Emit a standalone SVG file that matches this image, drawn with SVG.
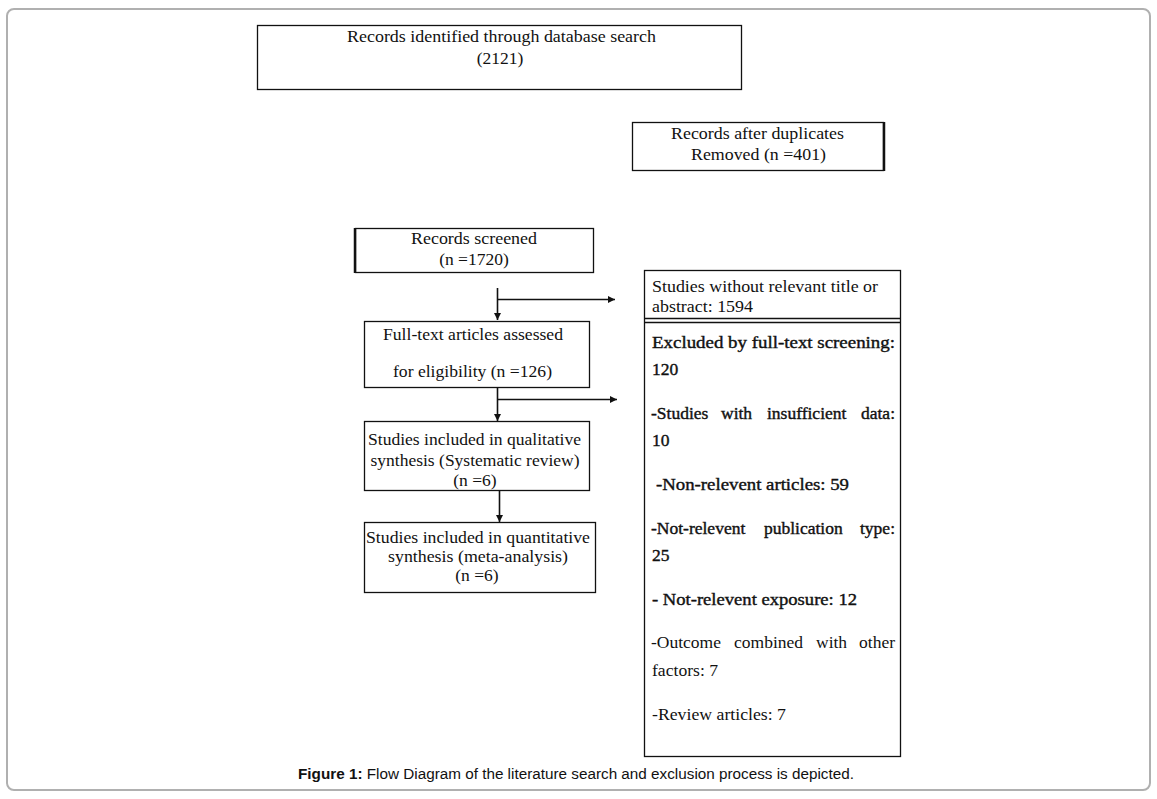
<svg xmlns="http://www.w3.org/2000/svg" width="1157" height="799" viewBox="0 0 1157 799">
<style>
.frame{fill:#fff;stroke:#b0b0b0;stroke-width:2}
.box{fill:#fff;stroke:#111;stroke-width:1.3}
.t{font-family:"Liberation Serif","Times New Roman",serif;font-size:17.5px;fill:#111}
.c{text-anchor:middle}
.e{text-anchor:end}
.b{stroke:#111;stroke-width:0.4}
.line{stroke:#111;stroke-width:1.6;fill:none}
.cap{font-family:"Liberation Sans",Arial,sans-serif;font-size:15.3px;fill:#111}
</style>
<defs>
<marker id="ah" viewBox="0 0 10 10" refX="10" refY="5" markerWidth="7" markerHeight="7" orient="auto" markerUnits="userSpaceOnUse">
<path d="M0,0 L10,5 L0,10 z" fill="#111"/>
</marker>
</defs>
<rect class="frame" x="7" y="9" width="1143" height="781" rx="7"/>
<g id="n1">
<rect class="box" x="257.5" y="25.5" width="484" height="64"/>
<text class="t c" x="501.5" y="42" textLength="309" lengthAdjust="spacingAndGlyphs">Records identified through database search</text>
<text class="t c" x="500" y="64">(2121)</text>
</g>
<g id="n2">
<rect class="box" x="632.5" y="122.5" width="251" height="48"/>
<line x1="884" y1="122" x2="884" y2="171" stroke="#111" stroke-width="2.5"/>
<text class="t c" x="757.5" y="139" textLength="173" lengthAdjust="spacingAndGlyphs">Records after duplicates</text>
<text class="t c" x="758.5" y="160" textLength="135" lengthAdjust="spacingAndGlyphs">Removed (n =401)</text>
</g>
<g id="n3">
<rect class="box" x="355.5" y="228.5" width="238" height="44"/>
<line x1="355" y1="228" x2="355" y2="273" stroke="#111" stroke-width="2.5"/>
<text class="t c" x="474" y="244" textLength="126" lengthAdjust="spacingAndGlyphs">Records screened</text>
<text class="t c" x="474" y="265">(n =1720)</text>
</g>
<g id="n4">
<rect class="box" x="644.5" y="270.5" width="256" height="486"/>
<line x1="644" y1="318.5" x2="901" y2="318.5" stroke="#111" stroke-width="1.3"/>
<line x1="644" y1="322.5" x2="901" y2="322.5" stroke="#111" stroke-width="1.3"/>
<text class="t" x="652" y="292" textLength="226" lengthAdjust="spacingAndGlyphs">Studies without relevant title or</text>
<text class="t" x="652" y="312" textLength="101" lengthAdjust="spacingAndGlyphs">abstract: 1594</text>
<text class="t b" x="652" y="348" textLength="243" lengthAdjust="spacingAndGlyphs">Excluded by full-text screening:</text>
<text class="t b" x="652" y="375">120</text>
<g class="t b">
<text x="651" y="419">-Studies</text>
<text x="721" y="419">with</text>
<text x="767" y="419">insufficient</text>
<text class="e" x="895" y="419">data:</text>
</g>
<text class="t b" x="652" y="446">10</text>
<text class="t b" x="656" y="490" textLength="193" lengthAdjust="spacingAndGlyphs">-Non-relevent articles: 59</text>
<g class="t b">
<text x="651" y="534">-Not-relevent</text>
<text x="764" y="534">publication</text>
<text class="e" x="895" y="534">type:</text>
</g>
<text class="t b" x="652" y="561">25</text>
<text class="t b" x="652" y="605" textLength="205" lengthAdjust="spacingAndGlyphs">- Not-relevent exposure: 12</text>
<g class="t">
<text x="651" y="648">-Outcome</text>
<text x="734" y="648">combined</text>
<text x="816" y="648">with</text>
<text class="e" x="895" y="648">other</text>
</g>
<text class="t" x="652" y="676" textLength="66" lengthAdjust="spacingAndGlyphs">factors: 7</text>
<text class="t" x="652" y="720" textLength="134" lengthAdjust="spacingAndGlyphs">-Review articles: 7</text>
</g>
<g id="n5">
<rect class="box" x="364.5" y="321.5" width="225" height="66"/>
<text class="t c" x="473" y="340" textLength="180" lengthAdjust="spacingAndGlyphs">Full-text articles assessed</text>
<text class="t c" x="472.5" y="377" textLength="159" lengthAdjust="spacingAndGlyphs">for eligibility (n =126)</text>
</g>
<g id="n6">
<rect class="box" x="364.5" y="421.5" width="225" height="69"/>
<text class="t c" x="474.5" y="445" textLength="213" lengthAdjust="spacingAndGlyphs">Studies included in qualitative</text>
<text class="t c" x="475" y="466" textLength="209" lengthAdjust="spacingAndGlyphs">synthesis (Systematic review)</text>
<text class="t c" x="475" y="486">(n =6)</text>
</g>
<g id="n7">
<rect class="box" x="364.5" y="522.5" width="231" height="70"/>
<text class="t c" x="478" y="543" textLength="224" lengthAdjust="spacingAndGlyphs">Studies included in quantitative</text>
<text class="t c" x="478" y="562" textLength="180" lengthAdjust="spacingAndGlyphs">synthesis (meta-analysis)</text>
<text class="t c" x="477" y="581">(n =6)</text>
</g>
<g id="connectors">
<line class="line" x1="497.5" y1="288" x2="497.5" y2="320" marker-end="url(#ah)"/>
<line class="line" x1="497" y1="299.5" x2="615" y2="299.5" marker-end="url(#ah)"/>
<line class="line" x1="497.5" y1="388" x2="497.5" y2="421" marker-end="url(#ah)"/>
<line class="line" x1="497" y1="399.5" x2="617" y2="399.5" marker-end="url(#ah)"/>
<line class="line" x1="499.5" y1="491" x2="499.5" y2="522" marker-end="url(#ah)"/>
</g>
<text class="cap" x="298" y="779" textLength="556" lengthAdjust="spacingAndGlyphs"><tspan font-weight="bold">Figure 1:</tspan> Flow Diagram of the literature search and exclusion process is depicted.</text>
</svg>
